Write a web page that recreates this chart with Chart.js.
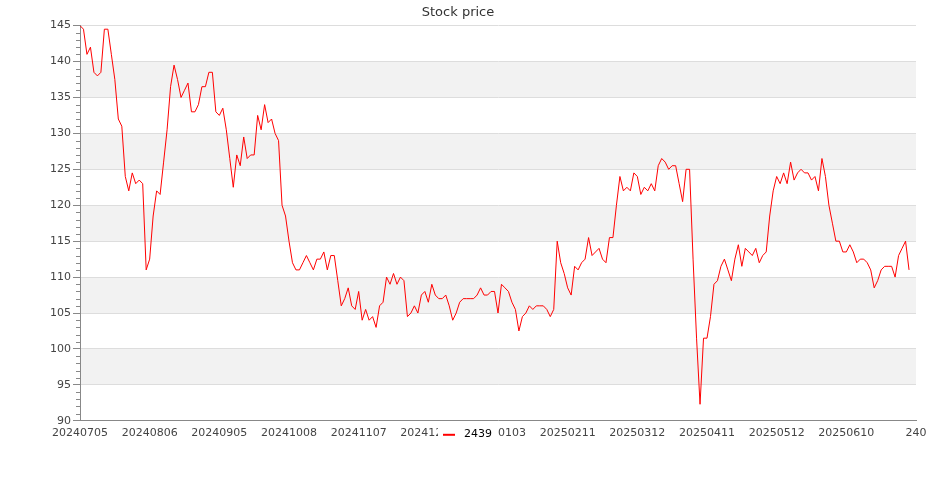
<!DOCTYPE html>
<html>
<head>
    <title>Stock price</title>
    <script src="https://cdn.jsdelivr.net/npm/chart.js"></script>
    <style>
        body { margin: 0; background: #fff; }
        #chart-container { width: 935px; height: 500px; }
    </style>
</head>
<body>
<div id="chart-container">
    <canvas id="priceChart"></canvas>
</div>

<script>
    // Daily closing prices of 2439, one per trading day (index 0 = 20240705)
    const prices = [
        145, 144.5, 141, 142, 138.5, 138, 138.5, 144.5, 144.5, 141,
        137.5, 132, 131, 124, 122, 124.5, 123, 123.5, 123, 111,
        112.5, 118.5, 122, 121.5, 126, 130.5, 136.5, 139.5, 137.5, 135,
        136, 137, 133, 133, 134, 136.5, 136.5, 138.5, 138.5, 133,
        132.5, 133.5, 130.5, 126.5, 122.5, 127, 125.5, 129.5, 126.5, 127,
        127, 132.5, 130.5, 134, 131.5, 132, 130, 129, 120, 118.5,
        115, 112, 111, 111, 112, 113, 112, 111, 112.5, 112.5,
        113.5, 111, 113, 113, 109.5, 106, 107, 108.5, 106, 105.5,
        108, 104, 105.5, 104, 104.5, 103, 106, 106.5, 110, 109,
        110.5, 109, 110, 109.5, 104.5, 105, 106, 105, 107.5, 108,
        106.5, 109, 107.5, 107, 107, 107.5, 106, 104, 105, 106.5,
        107, 107, 107, 107, 107.5, 108.5, 107.5, 107.5, 108, 108,
        105, 109, 108.5, 108, 106.5, 105.5, 102.5, 104.5, 105, 106,
        105.5, 106, 106, 106, 105.5, 104.5, 105.5, 115, 112, 110.5,
        108.5, 107.5, 111.5, 111, 112, 112.5, 115.5, 113, 113.5, 114,
        112.5, 112, 115.5, 115.5, 120, 124, 122, 122.5, 122, 124.5,
        124, 121.5, 122.5, 122, 123, 122, 125.5, 126.5, 126, 125,
        125.5, 125.5, 123, 120.5, 125, 125, 112.5, 101.5, 92.3, 101.5,
        101.5, 104.5, 109, 109.5, 111.5, 112.5, 111, 109.5, 112.5, 114.5,
        111.5, 114, 113.5, 113, 114, 112, 113, 113.5, 118.5, 122,
        124, 123, 124.5, 123, 126, 123.5, 124.5, 125, 124.5, 124.5,
        123.5, 124, 122, 126.5, 124, 120, 117.5, 115, 115, 113.5,
        113.5, 114.5, 113.5, 112, 112.5, 112.5, 112, 111, 108.5, 109.5,
        111, 111.5, 111.5, 111.5, 110, 113, 114, 115, 111
    ];

    // x tick labels, one every 20 trading days
    const tickLabels = [
        '20240705', '20240806', '20240905', '20241008', '20241107', '20241205',
        '20250103', '20250211', '20250312', '20250411', '20250512', '20250610'
    ];
    const tickStep = 20;
    const seriesName = '2439';

    Chart.defaults.font.family = '"DejaVu Sans", sans-serif';

    // alternating grey bands between the y grid lines
    const bandsPlugin = {
        id: 'bands',
        beforeDraw(chart) {
            const {ctx, chartArea, scales: {y}} = chart;
            ctx.save();
            ctx.fillStyle = '#f2f2f2';
            for (let v = y.min, k = 0; v < y.max; v += 5, k++) {
                if (k % 2 === 1) {
                    const top = y.getPixelForValue(v + 5);
                    const bottom = y.getPixelForValue(v);
                    ctx.fillRect(chartArea.left, top, chartArea.right - chartArea.left, bottom - top);
                }
            }
            ctx.restore();
        }
    };

    // small minor ticks on the y axis, one per unit
    const minorTicksPlugin = {
        id: 'minorTicks',
        afterDraw(chart) {
            const {ctx, scales: {y}} = chart;
            ctx.save();
            ctx.strokeStyle = '#888';
            ctx.lineWidth = 1;
            for (let v = y.min; v <= y.max; v++) {
                if (v % 5 === 0) continue;
                const py = Math.round(y.getPixelForValue(v)) + 0.5;
                ctx.beginPath();
                ctx.moveTo(y.right - 4, py);
                ctx.lineTo(y.right, py);
                ctx.stroke();
            }
            ctx.restore();
        }
    };

    // legend drawn on top of the x labels, centred, with a white box
    const legendPlugin = {
        id: 'overlayLegend',
        afterDraw(chart) {
            const {ctx, scales: {x}} = chart;
            const ds = chart.data.datasets[0];
            ctx.save();
            ctx.font = '11px "DejaVu Sans", sans-serif';
            const tw = ctx.measureText(ds.label).width;
            const lineLen = 12, gap = 9;
            const total = lineLen + gap + tw;
            const x0 = (chart.width - total) / 2;
            const cy = x.top + 14;
            ctx.fillStyle = '#fff';
            ctx.fillRect(x0 - 5, cy - 9, total + 10, 17);
            ctx.strokeStyle = ds.borderColor;
            ctx.lineWidth = 2;
            ctx.beginPath();
            ctx.moveTo(x0, cy);
            ctx.lineTo(x0 + lineLen, cy);
            ctx.stroke();
            ctx.fillStyle = '#000';
            ctx.textBaseline = 'middle';
            ctx.fillText(ds.label, x0 + lineLen + gap, cy - 1);
            ctx.restore();
        }
    };

    const ctx = document.getElementById('priceChart').getContext('2d');
    const priceChart = new Chart(ctx, {
        type: 'line',
        data: {
            datasets: [{
                label: seriesName,
                data: prices.map((p, i) => ({x: i, y: p})),
                borderColor: '#ff0000',
                borderWidth: 1,
                pointRadius: 0,
                tension: 0,
                fill: false
            }]
        },
        options: {
            responsive: true,
            maintainAspectRatio: false,
            animation: false,
            layout: {
                padding: {left: 0, right: 19, top: 0, bottom: 54}
            },
            plugins: {
                legend: {display: false},
                tooltip: {enabled: false},
                title: {
                    display: true,
                    text: 'Stock price',
                    color: '#333',
                    font: {size: 13, weight: 'normal'},
                    padding: {top: 5, bottom: 5}
                }
            },
            scales: {
                x: {
                    type: 'linear',
                    min: 0,
                    max: tickStep * tickLabels.length,
                    grid: {drawOnChartArea: false, drawTicks: false},
                    border: {color: '#888', width: 1},
                    ticks: {
                        stepSize: tickStep,
                        autoSkip: false,
                        maxRotation: 0,
                        padding: 6,
                        color: '#444',
                        font: {size: 11},
                        callback: (value) => tickLabels[value / tickStep] ?? String(value)
                    }
                },
                y: {
                    min: 90,
                    max: 145,
                    afterFit: (scale) => { scale.width = 80; },
                    grid: {color: '#dddddd', tickColor: '#888', tickLength: 7},
                    border: {color: '#888', width: 1},
                    ticks: {
                        stepSize: 5,
                        padding: 2,
                        color: '#444',
                        font: {size: 11}
                    }
                }
            }
        },
        plugins: [bandsPlugin, minorTicksPlugin, legendPlugin]
    });
</script>
</body>
</html>
